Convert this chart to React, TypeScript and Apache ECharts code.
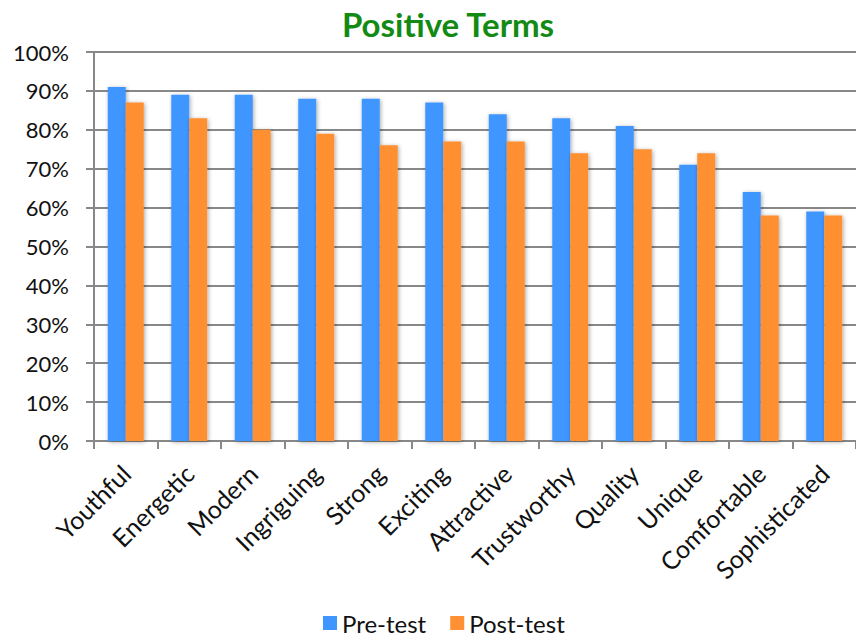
import React, { useEffect, useRef } from "react";
import * as echarts from "echarts";

const categories = ["Youthful", "Energetic", "Modern", "Ingriguing", "Strong", "Exciting", "Attractive", "Trustworthy", "Quality", "Unique", "Comfortable", "Sophisticated"];
const preTest = [91, 89, 89, 88, 88, 87, 84, 83, 81, 71, 64, 59];
const postTest = [87, 83, 80, 79, 76, 77, 77, 74, 75, 74, 58, 58];
const seriesNames = ["Pre-test", "Post-test"];
const titleText = "Positive Terms";

const FONT = "Lato, 'Open Sans', sans-serif";

export default function App() {
  const ref = useRef<HTMLDivElement>(null);
  useEffect(() => {
    if (!ref.current) return;
    const chart = echarts.init(ref.current, undefined, { renderer: "svg" });
    const barStyle = (color: string) => ({
      color,
      shadowColor: "rgba(0,0,0,0.35)",
      shadowBlur: 4,
      shadowOffsetX: 1,
      shadowOffsetY: 1,
    });
    chart.setOption({
      animation: false,
      backgroundColor: "#ffffff",
      title: {
        text: titleText,
        left: 443,
        top: 2,
        textAlign: "center",
        textStyle: { color: "#138A13", fontSize: 33, fontWeight: "bold", fontFamily: FONT },
      },
      legend: {
        data: seriesNames,
        bottom: 0,
        left: 318,
        orient: "horizontal",
        itemWidth: 14,
        itemHeight: 14,
        itemGap: 24,
        icon: "rect",
        textStyle: { fontSize: 24, color: "#111", fontFamily: FONT },
      },
      grid: { left: 94, top: 52, width: 767, height: 389, containLabel: false },
      xAxis: {
        type: "category",
        data: categories,
        axisLine: { lineStyle: { color: "#888", width: 2 } },
        axisTick: { show: true, alignWithLabel: false, length: 8, lineStyle: { color: "#888", width: 2 } },
        axisLabel: { rotate: 45, fontSize: 25, color: "#111", fontFamily: FONT, margin: 28, interval: 0 },
      },
      yAxis: {
        type: "value",
        min: 0,
        max: 100,
        interval: 10,
        axisLine: { show: true, lineStyle: { color: "#888", width: 2 } },
        axisTick: { show: true, inside: false, length: 8, lineStyle: { color: "#888", width: 2 } },
        axisLabel: { formatter: "{value}%", fontSize: 22, color: "#111", fontFamily: FONT, margin: 25 },
        splitLine: { lineStyle: { color: "#888", width: 2 } },
      },
      series: [
        { name: seriesNames[0], type: "bar", data: preTest, barWidth: 18, barGap: "0%", itemStyle: barStyle("#4096FF") },
        { name: seriesNames[1], type: "bar", data: postTest, barWidth: 18, barGap: "0%", itemStyle: barStyle("#FF9033") },
      ],
    });
    return () => chart.dispose();
  }, []);
  return <div ref={ref} style={{ position: "fixed", left: 0, top: 0, width: 856, height: 640 }} />;
}
